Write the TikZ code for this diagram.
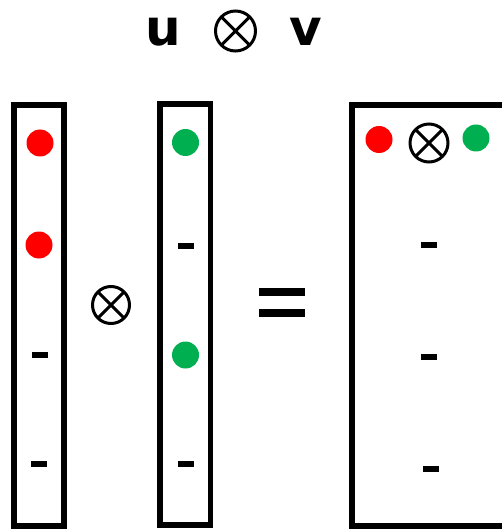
\documentclass[tikz,border=0pt]{standalone}
\usepackage{fontspec}
\setmainfont{DejaVu Sans}
\definecolor{dotred}{HTML}{FF0000}
\definecolor{dotgreen}{HTML}{00B050}
\tikzset{
  colbox/.style={line width=5.5pt},
  reddot/.style={circle, fill=dotred, inner sep=0pt, minimum size=27pt},
  greendot/.style={circle, fill=dotgreen, inner sep=0pt, minimum size=27pt},
  dashmark/.style={fill=black, inner sep=0pt, minimum width=16pt, minimum height=6pt},
  otimesring/.style={circle, draw, line width=3pt, inner sep=0pt, outer sep=0pt, minimum size=#1},
  vecname/.style={font=\fontsize{50}{56}\selectfont\bfseries, inner sep=0pt},
}
\newcommand{\crossring}[1]{%
  \draw[line width=3pt] (#1.45) -- (#1.225) (#1.135) -- (#1.-45);}
\begin{document}
\begin{tikzpicture}[x=1pt, y=-1pt]
    \useasboundingbox (0,0) rectangle (502,529);

    % title
    \node[vecname] (u) at (163,32) {u};
    \node[otimesring=40pt] (top) at (235.5,31) {};
    \crossring{top}
    \node[vecname] (v) at (306,32) {v};

    % columns
    \draw[colbox] (14,105) rectangle (64,526);
    \draw[colbox] (160,104) rectangle (210.5,525);
    \draw[colbox] (352,105) rectangle (512,526);

    % left column
    \node[reddot] (a1) at (40,143) {};
    \node[reddot] (a2) at (39,245) {};
    \node[dashmark] (a3) at (40,355) {};
    \node[dashmark] (a4) at (39,464) {};

    % middle column
    \node[greendot] (b1) at (185.5,142.5) {};
    \node[dashmark] (b2) at (186,246) {};
    \node[greendot] (b3) at (185.5,355) {};
    \node[dashmark] (b4) at (186,464) {};

    % operators
    \node[otimesring=37pt] (mid) at (111,305) {};
    \crossring{mid}
    \node[fill=black, inner sep=0pt, minimum width=46pt, minimum height=8pt] (eqa) at (282,292) {};
    \node[fill=black, inner sep=0pt, minimum width=46pt, minimum height=8pt] (eqb) at (282,313) {};

    % result column
    \node[reddot] (c1) at (379,139.5) {};
    \node[otimesring=38pt] (cx) at (429,143) {};
    \crossring{cx}
    \node[greendot] (c2) at (476,138) {};
    \node[dashmark] (c3) at (429,245) {};
    \node[dashmark] (c4) at (429,357) {};
    \node[dashmark] (c5) at (431,469) {};
\end{tikzpicture}
\end{document}
